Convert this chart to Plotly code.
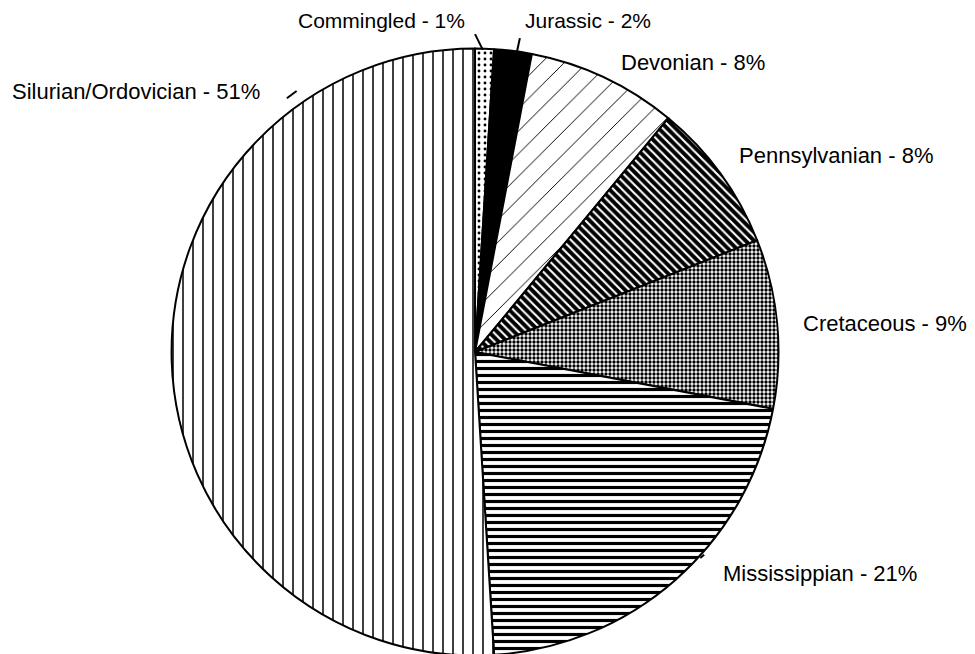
import plotly.graph_objects as go

# slices listed clockwise from 12 o'clock
formations = ["Commingled", "Jurassic", "Devonian", "Pennsylvanian",
              "Cretaceous", "Mississippian", "Silurian/Ordovician"]
percents = [1, 2, 8, 8, 9, 21, 51]

# label placement (paper coords, centre of text)
label_x = [0.383, 0.595, 0.703, 0.849, 0.899, 0.833, 0.131]
label_y = [0.981, 0.981, 0.917, 0.775, 0.518, 0.136, 0.872]
label_size = [21, 21, 22, 22, 22, 22, 22]

shapes = [".", "", "/", "\\", ".", "-", "|"]
fg = ["black", "white", "black", "white", "black", "black", "black"]
bg = ["white", "black", "white", "black", "white", "white", "white"]
sizes = [6, 8, 16, 6, 4, 7, 10]
solid = [0.18, 0.1, 0.06, 0.35, 0.55, 0.45, 0.15]

fig = go.Figure(go.Pie(
    labels=formations,
    values=percents,
    sort=False,
    direction="clockwise",
    rotation=0,
    textinfo="none",
    hoverinfo="label+percent",
    marker=dict(
        colors=bg,
        line=dict(color="black", width=2),
        pattern=dict(shape=shapes, fgcolor=fg, bgcolor=bg, size=sizes,
                     solidity=solid, fillmode="replace"),
    ),
    domain=dict(x=[0.166, 0.792], y=[0.010, 0.938]),
    showlegend=False,
))

for name, pct, x, y, s in zip(formations, percents, label_x, label_y, label_size):
    fig.add_annotation(x=x, y=y, xref="paper", yref="paper",
                       xanchor="center", yanchor="middle",
                       text=f"{name} - {pct}%", showarrow=False,
                       font=dict(size=s, color="black"))

# short leader lines
leaders = [
    (0.479, 0.960, 0.487, 0.936),
    (0.525, 0.954, 0.522, 0.933),
    (0.286, 0.862, 0.296, 0.873),
    (0.710, 0.159, 0.714, 0.164),
]
for x0, y0, x1, y1 in leaders:
    fig.add_shape(type="line", xref="paper", yref="paper",
                  x0=x0, y0=y0, x1=x1, y1=y1, line=dict(color="black", width=2))

fig.update_layout(
    width=975, height=654,
    margin=dict(l=0, r=0, t=0, b=0),
    paper_bgcolor="white",
    plot_bgcolor="white",
    font=dict(family="Liberation Sans, Arial, sans-serif", color="black"),
)

fig.write_html("out.html")
